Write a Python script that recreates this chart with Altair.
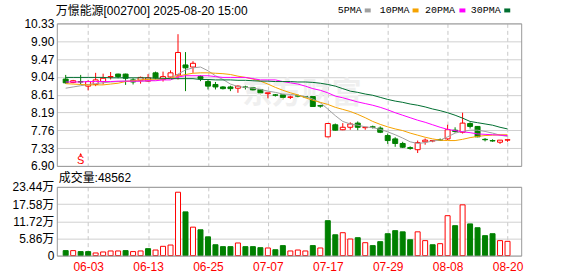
import altair as alt
import pandas as pd

# ---------------- data ----------------
dates = ["05-28", "05-29", "05-30", "06-03", "06-04", "06-05", "06-06", "06-09", "06-10", "06-11",
         "06-12", "06-13", "06-16", "06-17", "06-18", "06-19", "06-20", "06-23", "06-24", "06-25",
         "06-26", "06-27", "06-30", "07-01", "07-02", "07-03", "07-04", "07-07", "07-08", "07-09",
         "07-10", "07-11", "07-14", "07-15", "07-16", "07-17", "07-18", "07-21", "07-22", "07-23",
         "07-24", "07-25", "07-28", "07-29", "07-30", "07-31", "08-01", "08-04", "08-05", "08-06",
         "08-07", "08-08", "08-11", "08-12", "08-13", "08-14", "08-15", "08-18", "08-19", "08-20"]

opens = [8.99, 8.91, 8.93, 8.82, 8.86, 8.93, 9.04, 9.11, 9.11, 8.97,
         8.96, 8.94, 9.14, 8.98, 9.04, 9.09, 9.33, 9.28, 9.05, 8.93,
         8.86, 8.80, 8.80, 8.77, 8.80, 8.78, 8.74, 8.64, 8.61, 8.61,
         8.55, 8.59, 8.57, 8.57, 8.35, 7.60, 7.89, 7.77, 7.83, 7.93,
         7.82, 7.84, 7.81, 7.63, 7.55, 7.44, 7.34, 7.29, 7.48, 7.50,
         7.53, 7.55, 7.76, 7.71, 7.92, 7.85, 7.54, 7.51, 7.47, 7.52]
highs = [9.09, 8.97, 9.09, 8.96, 9.14, 9.12, 9.16, 9.12, 9.12, 9.01,
         9.05, 9.11, 9.17, 9.17, 9.20, 10.07, 9.64, 9.42, 9.08, 8.98,
         8.92, 8.82, 8.83, 8.84, 8.83, 8.80, 8.75, 8.66, 8.63, 8.65,
         8.59, 8.62, 8.58, 8.58, 8.37, 7.93, 7.92, 7.93, 7.95, 7.97,
         7.84, 7.87, 7.85, 7.68, 7.59, 7.48, 7.37, 7.51, 7.56, 7.52,
         7.56, 7.89, 7.83, 8.18, 7.95, 7.86, 7.57, 7.54, 7.52, 7.53]
lows = [8.88, 8.89, 8.86, 8.72, 8.82, 8.86, 8.98, 9.01, 8.85, 8.86,
        8.88, 8.92, 8.98, 8.93, 9.02, 8.98, 8.70, 9.14, 8.94, 8.74,
        8.74, 8.74, 8.70, 8.66, 8.74, 8.70, 8.62, 8.52, 8.57, 8.50,
        8.51, 8.55, 8.55, 8.33, 8.30, 7.59, 7.75, 7.76, 7.77, 7.76,
        7.77, 7.80, 7.69, 7.43, 7.36, 7.33, 7.29, 7.21, 7.41, 7.47,
        7.50, 7.52, 7.70, 7.68, 7.80, 7.59, 7.49, 7.48, 7.43, 7.48]
closes = [8.90, 8.95, 8.92, 8.93, 8.97, 9.01, 9.05, 9.05, 9.01, 8.92,
          9.03, 9.02, 9.02, 9.05, 9.14, 9.63, 9.26, 9.37, 9.00, 8.82,
          8.80, 8.76, 8.76, 8.82, 8.79, 8.73, 8.66, 8.66, 8.60, 8.55,
          8.56, 8.58, 8.56, 8.33, 8.34, 7.92, 7.76, 7.83, 7.91, 7.83,
          7.83, 7.83, 7.71, 7.51, 7.44, 7.35, 7.32, 7.46, 7.52, 7.51,
          7.52, 7.77, 7.73, 7.93, 7.85, 7.60, 7.53, 7.50, 7.52, 7.53]

# volume in 万 (10k)
volumes = [1.70, 1.70, 1.36, 1.36, 0.90, 1.24, 1.58, 1.58, 1.70, 1.36,
           1.58, 2.37, 1.90, 3.16, 3.60, 21.6, 14.9, 9.70, 8.80, 6.40,
           3.70, 3.05, 3.05, 4.30, 3.05, 3.05, 2.70, 2.60, 2.00, 3.40,
           1.58, 1.90, 1.58, 3.40, 2.60, 11.9, 7.10, 7.80, 5.65, 6.10,
           4.40, 3.40, 4.75, 7.46, 8.50, 8.10, 5.40, 8.10, 5.10, 3.70,
           4.07, 13.6, 10.2, 17.3, 10.8, 9.50, 6.80, 7.46, 5.10, 4.86]
vol_up = [0, 1, 0, 0, 1, 1, 1, 1, 0, 1,
          1, 0, 1, 1, 1, 1, 0, 1, 0, 0,
          0, 0, 0, 1, 0, 0, 0, 1, 0, 0,
          1, 1, 1, 0, 1, 0, 0, 1, 1, 0,
          1, 0, 0, 0, 0, 0, 0, 1, 1, 0,
          1, 1, 0, 1, 0, 0, 0, 0, 1, 1]

ma5 = [8.77, 8.80, 8.83, 8.86, 8.88, 8.90, 8.92, 8.93, 8.94, 8.94,
       8.94, 8.95, 8.97, 8.99, 9.01, 9.11, 9.21, 9.26, 9.28, 9.19,
       9.07, 8.98, 8.87, 8.81, 8.79, 8.77, 8.74, 8.70, 8.67, 8.63,
       8.62, 8.60, 8.57, 8.51, 8.42, 8.27, 8.11, 7.97, 7.91, 7.88,
       7.84, 7.82, 7.78, 7.72, 7.65, 7.57, 7.48, 7.44, 7.46, 7.50,
       7.52, 7.60, 7.69, 7.73, 7.76, 7.76, 7.73, 7.69, 7.64, 7.61]
ma10 = [8.88, 8.87, 8.86, 8.85, 8.85, 8.85, 8.87, 8.89, 8.93, 8.95,
        8.97, 8.98, 8.99, 9.00, 9.01, 9.06, 9.10, 9.13, 9.14, 9.14,
        9.13, 9.12, 9.10, 9.06, 9.03, 8.99, 8.94, 8.87, 8.79, 8.72,
        8.66, 8.61, 8.54, 8.48, 8.43, 8.38, 8.31, 8.26, 8.21, 8.14,
        8.06, 7.97, 7.90, 7.84, 7.79, 7.75, 7.69, 7.64, 7.59, 7.55,
        7.52, 7.51, 7.51, 7.54, 7.58, 7.61, 7.63, 7.64, 7.65, 7.65]
ma20 = [8.92, 8.92, 8.92, 8.93, 8.93, 8.93, 8.93, 8.94, 8.94, 8.94,
        8.94, 8.95, 8.95, 8.97, 8.97, 9.04, 9.07, 9.07, 9.07, 9.07,
        9.05, 9.03, 9.03, 9.03, 9.03, 9.00, 8.97, 8.97, 8.97, 8.93,
        8.90, 8.87, 8.82, 8.76, 8.72, 8.66, 8.58, 8.54, 8.49, 8.44,
        8.40, 8.36, 8.31, 8.25, 8.18, 8.12, 8.06, 8.00, 7.95, 7.89,
        7.83, 7.78, 7.75, 7.72, 7.70, 7.67, 7.66, 7.65, 7.64, 7.63]
ma30 = [9.03, 9.03, 9.03, 9.03, 9.03, 9.03, 9.02, 9.02, 9.02, 9.02,
        9.02, 9.02, 9.01, 9.01, 9.00, 9.00, 9.00, 9.00, 8.98, 8.98,
        8.97, 8.97, 8.97, 8.96, 8.96, 8.95, 8.94, 8.94, 8.93, 8.93,
        8.93, 8.92, 8.92, 8.91, 8.89, 8.86, 8.82, 8.76, 8.70, 8.67,
        8.63, 8.60, 8.55, 8.50, 8.46, 8.43, 8.39, 8.36, 8.32, 8.27,
        8.23, 8.18, 8.12, 8.05, 7.97, 7.94, 7.91, 7.88, 7.83, 7.79]

price_ticks = [6.90, 7.33, 7.76, 8.19, 8.61, 9.04, 9.47, 9.90, 10.33]
vol_ticks = [0, 5.86, 11.72, 17.58, 23.44]
tick_dates = ["06-03", "06-13", "06-25", "07-07", "07-17", "07-29", "08-08", "08-20"]
ma_names = ["5PMA", "10PMA", "20PMA", "30PMA"]
ma_colors = ["#a0a0a0", "#f5a200", "#ff00ff", "#006e30"]
title_text = "万憬能源[002700] 2025-08-20 15:00"
vol_title = "成交量:48562"
signal_dates = ["05-30"]
signal_text = ["S"]
watermark = "东方财富"

# ---------------- layout / style ----------------
W, H1, H2, GAP = 466, 143, 69, 21
LEFT, TOP = 56, 22
CANVAS_W, CANVAS_H = 578, 276
RED, GREEN = "#ff0000", "#008000"
FONT = "Liberation Sans, Noto Sans CJK SC, sans-serif"
LEG_FONT = "Liberation Mono, DejaVu Sans Mono, monospace"
legend_text_x = [282, 324, 369.5, 415.5]
legend_swatch_x = [309, 357, 404, 449]

idx = list(range(len(dates)))
tick_idx = [dates.index(d) for d in tick_dates]

k = pd.DataFrame({"i": idx, "date": dates, "open": opens, "high": highs, "low": lows,
                  "close": closes, "vol": volumes, "vup": vol_up})
ma = pd.DataFrame({
    "i": idx * 4,
    "value": ma5 + ma10 + ma20 + ma30,
    "ma": [n for n in ma_names for _ in idx],
})
sig = pd.DataFrame({"i": [dates.index(d) for d in signal_dates], "t": signal_text})
one = pd.DataFrame({"t": [title_text], "v": [vol_title], "w": [watermark]})

xscale = alt.Scale(domain=[-0.52, 60.16], nice=False, zero=False)
pscale = alt.Scale(domain=[6.90, 10.33], nice=False, zero=False)
vscale = alt.Scale(domain=[0, 23.44], nice=False, zero=True)

UP = "datum.close >= datum.open"
date_arr = "[" + ",".join("'%s'" % d for d in dates) + "]"

x_price_axis = alt.Axis(values=tick_idx, labels=False, ticks=False, domain=False, grid=True,
                        gridDash=[4, 3], gridColor="#c8c8c8", title=None)
y_price_axis = alt.Axis(values=price_ticks, format=".2f", ticks=False, domain=False, grid=True,
                        gridColor="#d0d0d0", labelPadding=3, title=None)


def px(field):
    return alt.X(field, scale=xscale, axis=x_price_axis, title=None)


def py(field):
    return alt.Y(field, scale=pscale, axis=y_price_axis, title=None)


# ---------------- price panel ----------------
wm = alt.Chart(one).mark_text(font=FONT, fontSize=30, fontWeight="bold", color="#efefef",
                              align="center", baseline="middle").encode(
    x=alt.value(246), y=alt.value(71), text="w:N")

wicks = alt.Chart(k).mark_rule(strokeWidth=1).encode(
    x=px("i:Q"), y=py("low:Q"), y2="high:Q",
    color=alt.condition(UP, alt.value(RED), alt.value(GREEN)),
)
bodies = alt.Chart(k).mark_bar(size=5, strokeWidth=1).encode(
    x=px("i:Q"), y=py("open:Q"), y2="close:Q",
    fill=alt.condition(UP, alt.value("white"), alt.value(GREEN)),
    stroke=alt.condition(UP, alt.value(RED), alt.value(GREEN)),
)
lines = alt.Chart(ma).mark_line(strokeWidth=1).encode(
    x=px("i:Q"), y=py("value:Q"),
    color=alt.Color("ma:N", scale=alt.Scale(domain=ma_names, range=ma_colors), legend=None),
)
sig_text = alt.Chart(sig).mark_text(font=FONT, fontSize=11, color=RED, baseline="middle").encode(
    x=px("i:Q"), y=alt.value(138.5), text="t:N")
sig_arrow = alt.Chart(sig).mark_point(shape="triangle-up", filled=True, size=10, color=RED,
                                      opacity=1).encode(x=px("i:Q"), y=alt.value(131.5))

title = alt.Chart(one).mark_text(font=FONT, fontSize=12, color="#000000", align="left",
                                 baseline="middle").encode(
    x=alt.value(-1), y=alt.value(-12), text="t:N")

legend_layers = []
for name, colr, tx, sx in zip(ma_names, ma_colors, legend_text_x, legend_swatch_x):
    legend_layers.append(
        alt.Chart(one).mark_text(text=name, font=LEG_FONT, fontSize=10, color="#000000",
                                 align="left", baseline="middle").encode(
            x=alt.value(tx), y=alt.value(-13)))
    legend_layers.append(
        alt.Chart(one).mark_rect(color=colr).encode(
            x=alt.value(sx), x2=alt.value(sx + 6), y=alt.value(-15), y2=alt.value(-11)))

border1 = alt.Chart(one).mark_rect(fillOpacity=0, stroke="#999999", strokeWidth=1).encode(
    x=alt.value(0.5), x2=alt.value(W + 0.5), y=alt.value(0.5), y2=alt.value(H1 + 0.5))
anchor1 = alt.Chart(one).mark_rule(color="white", strokeWidth=0.01).encode(
    x=alt.value(-LEFT), x2=alt.value(-LEFT + 1), y=alt.value(-TOP), y2=alt.value(-TOP))
anchor2 = alt.Chart(one).mark_rule(color="white", strokeWidth=0.01).encode(
    x=alt.value(CANVAS_W - LEFT - 1), x2=alt.value(CANVAS_W - LEFT), y=alt.value(-TOP),
    y2=alt.value(-TOP))

price = alt.layer(wicks, wm, bodies, lines, sig_text, sig_arrow, title, *legend_layers,
                  border1, anchor1, anchor2).properties(width=W, height=H1)

# ---------------- volume panel ----------------
x_vol_axis = alt.Axis(values=tick_idx, labelExpr=date_arr + "[datum.value]", labelColor=RED,
                      labelPadding=6, labelFlush=False, ticks=False, domain=False, grid=True,
                      gridDash=[4, 3], gridColor="#c8c8c8", title=None)
y_vol_axis = alt.Axis(values=vol_ticks,
                      labelExpr="datum.value == 0 ? '0' : format(datum.value, '.2f') + '万'",
                      ticks=False, domain=False, grid=True, gridColor="#d0d0d0",
                      labelPadding=3, title=None)
vbars = alt.Chart(k).mark_bar(size=5, strokeWidth=1).encode(
    x=alt.X("i:Q", scale=xscale, axis=x_vol_axis),
    y=alt.Y("vol:Q", scale=vscale, axis=y_vol_axis),
    fill=alt.condition("datum.vup == 1", alt.value("white"), alt.value(GREEN)),
    stroke=alt.condition("datum.vup == 1", alt.value(RED), alt.value(GREEN)),
)
vtitle = alt.Chart(one).mark_text(font=FONT, fontSize=12, color="#000000", align="left",
                                  baseline="middle").encode(
    x=alt.value(2), y=alt.value(-9), text="v:N")
border2 = alt.Chart(one).mark_rect(fillOpacity=0, stroke="#999999", strokeWidth=1).encode(
    x=alt.value(0.5), x2=alt.value(W + 0.5), y=alt.value(0.5), y2=alt.value(H2 + 0.5))
anchor3 = alt.Chart(one).mark_rule(color="white", strokeWidth=0.01).encode(
    x=alt.value(-LEFT), x2=alt.value(-LEFT + 1),
    y=alt.value(CANVAS_H - TOP - H1 - GAP), y2=alt.value(CANVAS_H - TOP - H1 - GAP))

vol = alt.layer(vbars, vtitle, border2, anchor3).properties(width=W, height=H2)

chart = alt.vconcat(price, vol, spacing=GAP, bounds="flush").properties(
    padding=0, background="white"
).configure_view(stroke="transparent").configure_axis(
    labelFont=FONT, labelFontSize=12, labelColor="#000000"
)

chart.save("out.html", embed_options={"renderer": "svg", "actions": False})
